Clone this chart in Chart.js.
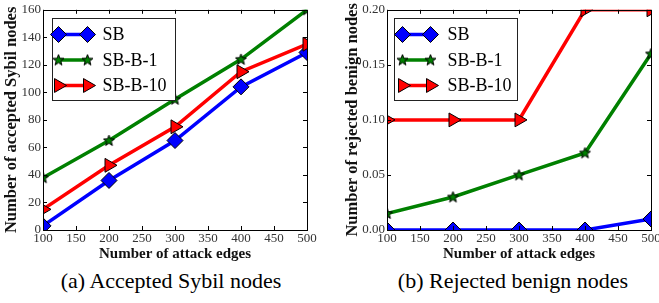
<!DOCTYPE html>
<html>
<head>
<meta charset="utf-8">
<script src="https://cdn.jsdelivr.net/npm/chart.js@4/dist/chart.umd.min.js"></script>
<style>
  html, body { margin: 0; padding: 0; background: #fff; width: 659px; height: 303px; overflow: hidden; }
  .wrap { position: absolute; top: 0; height: 265px; }
  #w1 { left: 0; width: 330px; }
  #w2 { left: 330px; width: 340px; }
  .cap { position: absolute; top: 268px; font-family: "Times New Roman", "Liberation Serif", "DejaVu Serif", serif; font-size: 22px; color: #000; white-space: nowrap; transform: translateX(-50%); }
</style>
</head>
<body>
<div class="wrap" id="w1"><canvas id="c1"></canvas></div>
<div class="wrap" id="w2"><canvas id="c2"></canvas></div>
<div class="cap" style="left:171px">(a) Accepted Sybil nodes</div>
<div class="cap" style="left:513px">(b) Rejected benign nodes</div>
<script>
// ---- data ----
const attackEdges = [100, 200, 300, 400, 500];
const seriesNames = ["SB", "SB-B-1", "SB-B-10"];
const acceptedSB = [3, 36, 65, 104, 129];
const acceptedSBB1 = [38, 65, 95, 124, 160];
const acceptedSBB10 = [15, 47, 75, 115, 135];
const rejectedSB = [0, 0, 0, 0, 0.01];
const rejectedSBB1 = [0.015, 0.03, 0.05, 0.07, 0.16];
const rejectedSBB10 = [0.1, 0.1, 0.1, 0.2, 0.2];
const xTickValues = [100, 150, 200, 250, 300, 350, 400, 450, 500];
const leftYTicks = [0, 20, 40, 60, 80, 100, 120, 140, 160];
const rightYTicks = [0, 0.05, 0.1, 0.15, 0.2];

const SERIF = '"Times New Roman", "Liberation Serif", "DejaVu Serif", serif';

// ---- star marker image ----
function makeStar(fill) {
  const c = document.createElement('canvas');
  c.width = 13; c.height = 13;
  const g = c.getContext('2d');
  const cx = 6.5, cy = 6.8, R = 5.8, r = 2.4;
  g.beginPath();
  for (let i = 0; i < 10; i++) {
    const a = -Math.PI / 2 + i * Math.PI / 5;
    const rr = i % 2 === 0 ? R : r;
    const px = cx + rr * Math.cos(a), py = cy + rr * Math.sin(a);
    i === 0 ? g.moveTo(px, py) : g.lineTo(px, py);
  }
  g.closePath();
  g.fillStyle = fill; g.fill();
  g.lineWidth = 1; g.strokeStyle = '#000'; g.stroke();
  return c;
}
const starImg = makeStar('#008000');

const styles = [
  { color: '#0000ff', pointStyle: 'rectRot', radius: 8, rotation: 0 },
  { color: '#008000', pointStyle: starImg, radius: 6, rotation: 0 },
  { color: '#ff0000', pointStyle: 'triangle', radius: 8, rotation: 90 }
];

function mkData(arr) { return attackEdges.map((x, i) => ({ x: x, y: arr[i] })); }

function mkDatasets(arrs) {
  return arrs.map((arr, i) => ({
    label: seriesNames[i],
    data: mkData(arr),
    borderColor: styles[i].color,
    backgroundColor: styles[i].color,
    borderWidth: 3.5,
    pointStyle: styles[i].pointStyle,
    pointRadius: styles[i].radius,
    pointHoverRadius: styles[i].radius,
    pointRotation: styles[i].rotation,
    pointBackgroundColor: styles[i].color,
    pointBorderColor: '#000',
    pointBorderWidth: 1,
    tension: 0,
    clip: 0,
    order: 3 - i
  }));
}

// ---- plugins: frame with inward ticks, legend ----
const framePlugin = {
  id: 'frame',
  afterDatasetsDraw(chart) {
    const { ctx, chartArea: a, scales } = chart;
    ctx.save();
    ctx.strokeStyle = '#000';
    ctx.lineWidth = 1;
    ctx.beginPath();
    const L = 4;
    scales.x.ticks.forEach(t => {
      const px = Math.round(scales.x.getPixelForValue(t.value)) + 0.5;
      ctx.moveTo(px, a.bottom); ctx.lineTo(px, a.bottom - L);
      ctx.moveTo(px, a.top); ctx.lineTo(px, a.top + L);
    });
    scales.y.ticks.forEach(t => {
      const py = Math.round(scales.y.getPixelForValue(t.value)) + 0.5;
      ctx.moveTo(a.left, py); ctx.lineTo(a.left + L, py);
      ctx.moveTo(a.right, py); ctx.lineTo(a.right - L, py);
    });
    ctx.stroke();
    ctx.strokeRect(Math.round(a.left) + 0.5, Math.round(a.top) + 0.5, Math.round(a.right - a.left), Math.round(a.bottom - a.top));
    ctx.restore();
  },
  afterDraw(chart, args, opts) {
    const { ctx, chartArea: a } = chart;
    const bx = Math.round(a.left + opts.dx) + 0.5, by = Math.round(a.top + opts.dy) + 0.5;
    const bw = 123, bh = 82;
    ctx.save();
    ctx.fillStyle = '#fff';
    ctx.fillRect(bx, by, bw, bh);
    ctx.strokeStyle = '#222';
    ctx.lineWidth = 1;
    ctx.strokeRect(bx, by, bw, bh);
    const rows = [16, 41.5, 67];
    chart.data.datasets.forEach((ds, i) => {
      const y = by + rows[i];
      const x1 = bx + opts.lx1, x2 = bx + opts.lx2;
      ctx.strokeStyle = ds.borderColor;
      ctx.lineWidth = 3.5;
      ctx.beginPath(); ctx.moveTo(x1, y); ctx.lineTo(x2, y); ctx.stroke();
      [x1, x2].forEach(px => {
        ctx.fillStyle = ds.pointBackgroundColor;
        ctx.strokeStyle = '#000';
        ctx.lineWidth = 1;
        Chart.helpers.drawPoint(ctx, {
          pointStyle: ds.pointStyle, rotation: ds.pointRotation,
          radius: ds.pointRadius, borderWidth: 1
        }, px, y);
      });
      ctx.fillStyle = '#000';
      ctx.font = '18px ' + SERIF;
      ctx.textBaseline = 'middle';
      ctx.textAlign = 'left';
      ctx.fillText(ds.label, bx + opts.tx, y + 1);
    });
    ctx.restore();
  }
};

const tickFont = { family: SERIF, size: 13 };
const xTitleFont = { family: SERIF, size: 15, weight: 'bold' };
const yTitleFont = { family: SERIF, size: 16.5, weight: 'bold' };

function mkChart(id, arrs, yMax, yFmt, yWidth, yTitle, yTitlePad, padRight, legendOpts) {
  return new Chart(document.getElementById(id), {
    type: 'line',
    data: { datasets: mkDatasets(arrs) },
    plugins: [framePlugin],
    options: {
      responsive: true,
      maintainAspectRatio: false,
      animation: false,
      events: [],
      layout: { padding: { top: 7, right: padRight, left: 0, bottom: 0 } },
      plugins: {
        legend: { display: false },
        tooltip: { enabled: false },
        frame: legendOpts
      },
      scales: {
        x: {
          type: 'linear', min: 100, max: 500,
          afterBuildTicks: s => { s.ticks = xTickValues.map(v => ({ value: v })); },
          ticks: { font: tickFont, color: '#333', padding: 1, maxRotation: 0, autoSkip: false },
          grid: { display: false, drawTicks: false },
          border: { display: false },
          title: { display: true, text: 'Number of attack edges', font: xTitleFont, color: '#111', padding: { top: 0, bottom: 2 } },
          afterFit: s => { s.height = 35; }
        },
        y: {
          type: 'linear', min: 0, max: yMax,
          afterBuildTicks: s => { s.ticks = (yMax > 1 ? leftYTicks : rightYTicks).map(v => ({ value: v })); },
          ticks: { font: tickFont, color: '#333', padding: 2, callback: yFmt, autoSkip: false },
          grid: { display: false, drawTicks: false },
          border: { display: false },
          title: { display: true, text: yTitle, font: yTitleFont, color: '#111', padding: { top: yTitlePad, bottom: 0 } },
          afterFit: s => { s.width = yWidth; }
        }
      }
    }
  });
}

mkChart('c1', [acceptedSB, acceptedSBB1, acceptedSBB10], 160, v => String(v), 43,
  'Number of accepted Sybil nodes', 2, 23, { dx: 9, dy: 8, lx1: 6, lx2: 35, tx: 50 });
mkChart('c2', [rejectedSB, rejectedSBB1, rejectedSBB10], 0.2, v => Number(v).toFixed(2), 57,
  'Number of rejected benign nodes', 13, 19, { dx: 7, dy: 8, lx1: 8, lx2: 36, tx: 53 });
</script>
</body>
</html>
